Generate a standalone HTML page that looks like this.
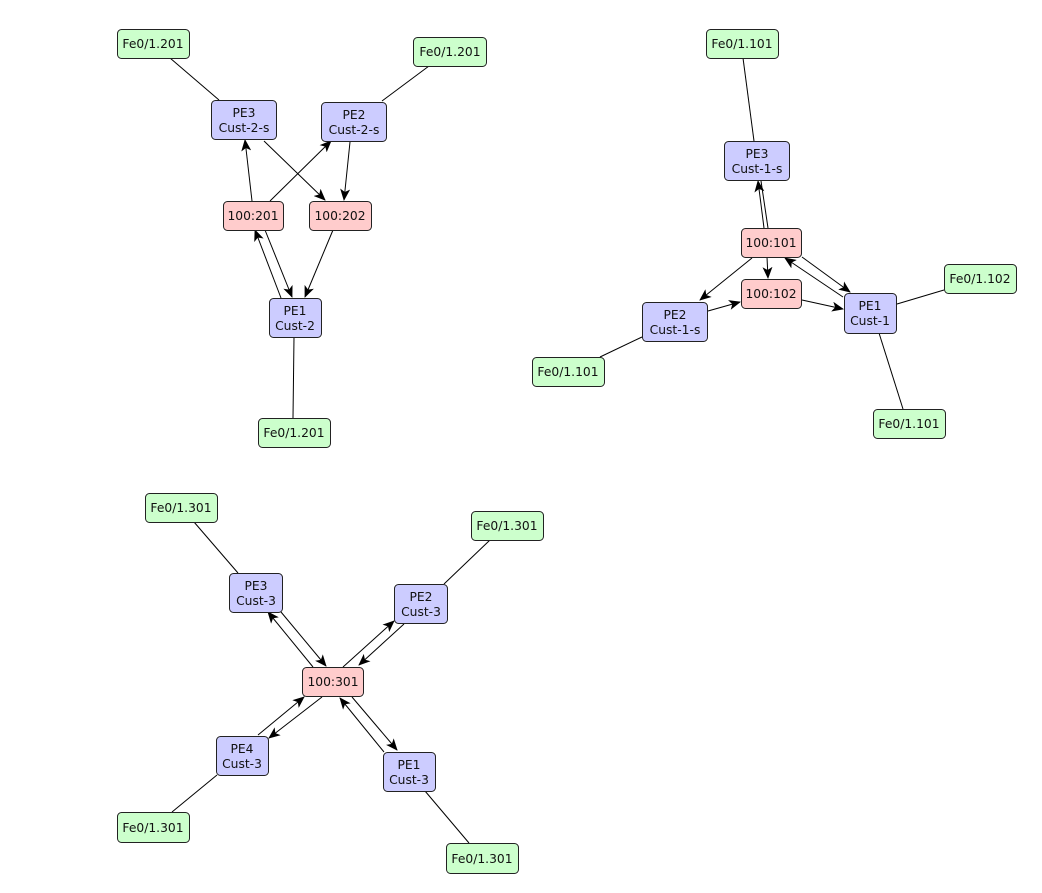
<!DOCTYPE html>
<html><head><meta charset="utf-8"><style>
body{margin:0;background:#fff;width:1042px;height:888px;overflow:hidden}
svg text{font-family:"DejaVu Sans","Liberation Sans",sans-serif;font-size:12.3px;fill:#111;text-anchor:middle}
</style></head><body>
<svg width="1042" height="888" viewBox="0 0 1042 888" xmlns="http://www.w3.org/2000/svg">
<defs><marker id="a" markerWidth="12" markerHeight="10" refX="11" refY="5" orient="auto" markerUnits="userSpaceOnUse"><path d="M0,0 L12,5 L0,10 L3,5 z" fill="#000"/></marker></defs>
<g stroke="#000" stroke-width="1" fill="none">
<line x1="170" y1="58" x2="219" y2="100"/>
<line x1="429" y1="66" x2="382" y2="101"/>
<line x1="252" y1="201" x2="245" y2="140" marker-end="url(#a)"/>
<line x1="270" y1="201" x2="331" y2="141" marker-end="url(#a)"/>
<line x1="264" y1="141" x2="325" y2="200" marker-end="url(#a)"/>
<line x1="350" y1="142" x2="344" y2="200" marker-end="url(#a)"/>
<line x1="281" y1="298" x2="255" y2="230" marker-end="url(#a)"/>
<line x1="265" y1="230" x2="292" y2="297" marker-end="url(#a)"/>
<line x1="333" y1="230" x2="305" y2="297" marker-end="url(#a)"/>
<line x1="294" y1="337" x2="293" y2="418"/>

<line x1="743" y1="58" x2="754" y2="141"/>
<line x1="764" y1="228" x2="758" y2="181" marker-end="url(#a)"/>
<line x1="761" y1="181" x2="768" y2="228"/>
<line x1="767" y1="257" x2="768" y2="278" marker-end="url(#a)"/>
<line x1="752" y1="258" x2="700" y2="300" marker-end="url(#a)"/>
<line x1="708" y1="311" x2="740" y2="302" marker-end="url(#a)"/>
<line x1="802" y1="300" x2="843" y2="309" marker-end="url(#a)"/>
<line x1="802" y1="257" x2="850" y2="292" marker-end="url(#a)"/>
<line x1="843" y1="297" x2="785" y2="258" marker-end="url(#a)"/>
<line x1="897" y1="304" x2="944" y2="290"/>
<line x1="879" y1="333" x2="903" y2="409"/>
<line x1="642" y1="337" x2="600" y2="357"/>

<line x1="194" y1="522" x2="238" y2="573"/>
<line x1="490" y1="540" x2="444" y2="584"/>
<line x1="313" y1="667" x2="268" y2="612" marker-end="url(#a)"/>
<line x1="281" y1="612" x2="326" y2="666" marker-end="url(#a)"/>
<line x1="343" y1="667" x2="394" y2="621" marker-end="url(#a)"/>
<line x1="404" y1="624" x2="359" y2="665" marker-end="url(#a)"/>
<line x1="258" y1="735" x2="304" y2="697" marker-end="url(#a)"/>
<line x1="322" y1="697" x2="269" y2="738" marker-end="url(#a)"/>
<line x1="384" y1="752" x2="340" y2="698" marker-end="url(#a)"/>
<line x1="352" y1="697" x2="397" y2="750" marker-end="url(#a)"/>
<line x1="217" y1="775" x2="172" y2="812"/>
<line x1="425" y1="791" x2="469" y2="843"/>
</g>
<g stroke="#222" stroke-width="1">
<g fill="#ccffcc">
<rect x="117.5" y="29.5" width="72" height="29" rx="4"/>
<rect x="413.5" y="37.5" width="73" height="29" rx="4"/>
<rect x="258.5" y="418.5" width="72" height="29" rx="4"/>
<rect x="706.5" y="29.5" width="72" height="29" rx="4"/>
<rect x="944.5" y="264.5" width="72" height="29" rx="4"/>
<rect x="532.5" y="357.5" width="72" height="29" rx="4"/>
<rect x="873.5" y="409.5" width="72" height="29" rx="4"/>
<rect x="145.5" y="493.5" width="72" height="29" rx="4"/>
<rect x="471.5" y="511.5" width="72" height="29" rx="4"/>
<rect x="117.5" y="812.5" width="72" height="30" rx="4"/>
<rect x="446.5" y="843.5" width="72" height="30" rx="4"/>
</g>
<g fill="#ccccff">
<rect x="211.5" y="100.5" width="65" height="39" rx="4"/>
<rect x="321.5" y="102.5" width="65" height="39" rx="4"/>
<rect x="269.5" y="298.5" width="52" height="39" rx="4"/>
<rect x="724.5" y="141.5" width="65" height="39" rx="4"/>
<rect x="642.5" y="302.5" width="65" height="39" rx="4"/>
<rect x="844.5" y="293.5" width="52" height="40" rx="4"/>
<rect x="229.5" y="573.5" width="53" height="39" rx="4"/>
<rect x="394.5" y="584.5" width="53" height="39" rx="4"/>
<rect x="216.5" y="736.5" width="52" height="39" rx="4"/>
<rect x="383.5" y="752.5" width="52" height="39" rx="4"/>
</g>
<g fill="#ffcccc">
<rect x="223.5" y="201.5" width="60" height="29" rx="4"/>
<rect x="309.5" y="201.5" width="62" height="29" rx="4"/>
<rect x="741.5" y="228.5" width="60" height="29" rx="4"/>
<rect x="741.5" y="279.5" width="60" height="29" rx="4"/>
<rect x="302.5" y="667.5" width="61" height="29" rx="4"/>
</g>
</g>
<g>
<text x="153" y="48">Fe0/1.201</text>
<text x="450" y="56">Fe0/1.201</text>
<text x="294" y="437">Fe0/1.201</text>
<text x="742" y="48">Fe0/1.101</text>
<text x="980" y="283">Fe0/1.102</text>
<text x="568" y="376">Fe0/1.101</text>
<text x="909" y="428">Fe0/1.101</text>
<text x="181" y="512">Fe0/1.301</text>
<text x="507" y="530">Fe0/1.301</text>
<text x="153" y="832">Fe0/1.301</text>
<text x="482" y="863">Fe0/1.301</text>
<text x="244" y="117">PE3</text><text x="244" y="132">Cust-2-s</text>
<text x="354" y="119">PE2</text><text x="354" y="134">Cust-2-s</text>
<text x="295" y="315">PE1</text><text x="295" y="330">Cust-2</text>
<text x="757" y="158">PE3</text><text x="757" y="173">Cust-1-s</text>
<text x="675" y="319">PE2</text><text x="675" y="334">Cust-1-s</text>
<text x="870" y="310">PE1</text><text x="870" y="325">Cust-1</text>
<text x="256" y="590">PE3</text><text x="256" y="605">Cust-3</text>
<text x="421" y="601">PE2</text><text x="421" y="616">Cust-3</text>
<text x="242" y="753">PE4</text><text x="242" y="768">Cust-3</text>
<text x="409" y="769">PE1</text><text x="409" y="784">Cust-3</text>
<text x="253" y="220">100:201</text>
<text x="340" y="220">100:202</text>
<text x="771" y="247">100:101</text>
<text x="771" y="298">100:102</text>
<text x="333" y="686">100:301</text>
</g>
</svg>
</body></html>
